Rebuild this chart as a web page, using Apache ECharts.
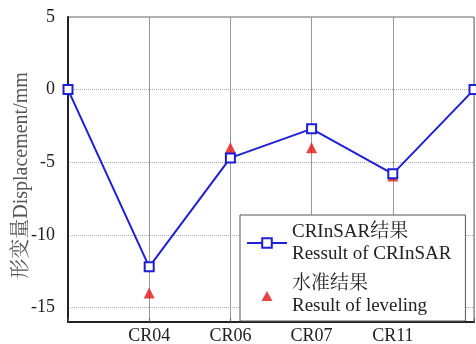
<!DOCTYPE html>
<html>
<head>
<meta charset="utf-8">
<script src="https://cdn.jsdelivr.net/npm/echarts@6/dist/echarts.min.js"></script>
<style>
html,body{margin:0;padding:0;background:#fff;}
#main{width:476px;height:344px;}
</style>
</head>
<body>
<div id="main"></div>
<script>
const categories = ['', 'CR04', 'CR06', 'CR07', 'CR11', ''];
const insarValues = [0, -12.2, -4.7, -2.7, -5.8, 0];
const levelingValues = [null, -14.0, -4.0, -4.0, -5.95, null];
const yTicks = [-15, -10, -5, 0, 5];
const seriesNames = ['CRInSAR结果\nRessult of CRInSAR', '水准结果\nResult of leveling'];

const FONT = "'Liberation Serif', 'Times New Roman', 'Noto Serif CJK SC', 'Noto Sans CJK SC', serif";

const chart = echarts.init(document.getElementById('main'), null, {renderer: 'canvas'});
chart.setOption({
  backgroundColor: '#fff',
  animation: false,
  textStyle: {fontFamily: FONT},
  grid: {left: 68, top: 17, right: 2, bottom: 22, show: true, borderColor: '#666', borderWidth: 1, containLabel: false, outerBoundsMode: 'none'},
  xAxis: {
    type: 'category',
    data: categories,
    boundaryGap: false,
    axisLine: {onZero: false, lineStyle: {color: '#222', width: 2}},
    axisTick: {inside: true, length: 4, lineStyle: {color: '#555'}},
    axisLabel: {color: '#222', fontSize: 18, fontFamily: FONT, margin: 5, interval: 0},
    splitLine: {show: true, lineStyle: {color: '#999', width: 1}}
  },
  yAxis: {
    type: 'value',
    min: -16,
    max: 5,
    name: '形变量Displacement/mm',
    nameLocation: 'middle',
    nameGap: 36,
    nameMoveOverlap: false,
    nameTextStyle: {color: '#555', fontSize: 20, fontFamily: FONT, padding: [0, 12, 0, 0]},
    axisLine: {show: true, lineStyle: {color: '#222', width: 2}},
    axisTick: {show: false, customValues: yTicks},
    axisLabel: {color: '#222', fontSize: 18, fontFamily: FONT, margin: 13, customValues: yTicks},
    splitLine: {show: true, lineStyle: {color: '#aaa', width: 1, type: 'dotted'}}
  },
  legend: {
    orient: 'vertical',
    left: 240,
    top: 215,
    backgroundColor: '#fff',
    borderColor: '#555',
    borderWidth: 1,
    borderRadius: 0,
    padding: [6, 14, 4, 6],
    itemGap: 8,
    itemWidth: 40,
    itemHeight: 12,
    textStyle: {color: '#222', fontSize: 19, fontFamily: FONT, lineHeight: 22},
    data: [
      {name: seriesNames[0]},
      {name: seriesNames[1], icon: 'path://M0,0M40,12M14.5,12L20,2L25.5,12Z'}
    ]
  },
  series: [
    {
      name: seriesNames[0],
      type: 'line',
      data: insarValues,
      symbol: 'rect',
      symbolSize: 9,
      z: 3,
      lineStyle: {color: '#1f1fd6', width: 2},
      itemStyle: {color: '#fff', borderColor: '#1f1fd6', borderWidth: 2}
    },
    {
      name: seriesNames[1],
      type: 'scatter',
      data: levelingValues,
      symbol: 'triangle',
      symbolSize: 11,
      z: 2,
      itemStyle: {color: '#e51515'}
    }
  ]
});
</script>
</body>
</html>
